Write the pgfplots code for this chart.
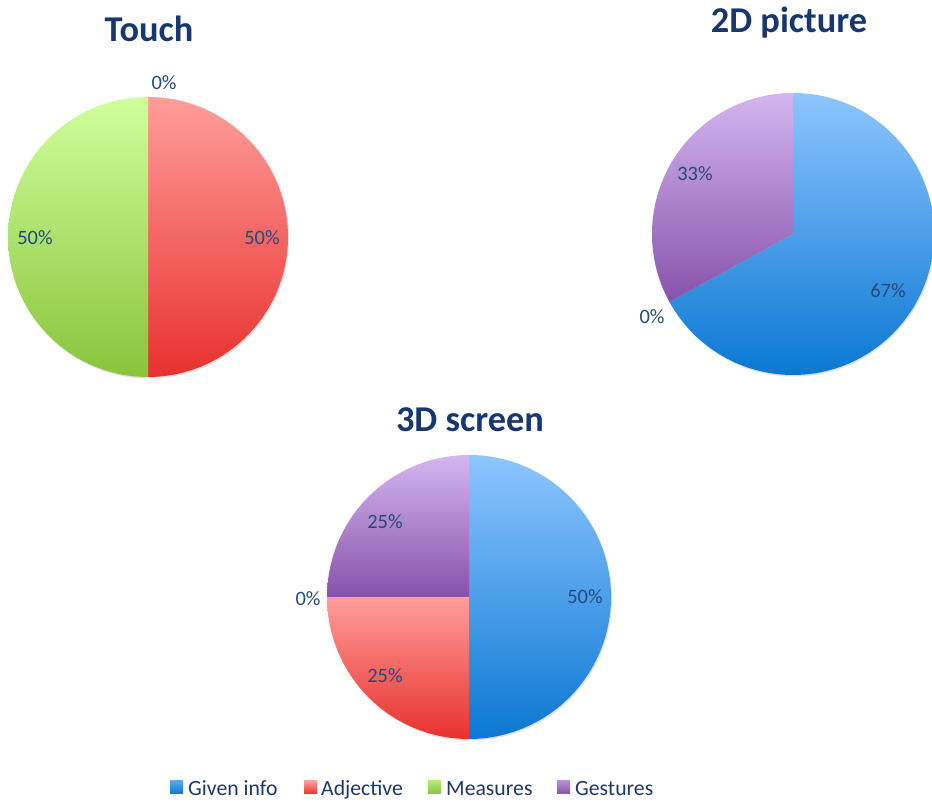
\documentclass[border=0pt]{standalone}
\usepackage{pgfplots}
\pgfplotsset{compat=1.18}
\usepackage{fontspec}
\setmainfont{Carlito}
\definecolor{titlec}{HTML}{17376E}
\definecolor{labc}{HTML}{25497C}
\definecolor{legc}{HTML}{1F3864}
\definecolor{blueT}{HTML}{8EC5FF}
\definecolor{blueB}{HTML}{0A78D2}
\definecolor{redT}{HTML}{FF9E9A}
\definecolor{redB}{HTML}{E8312E}
\definecolor{greenT}{HTML}{CFFF9C}
\definecolor{greenB}{HTML}{8AC43C}
\definecolor{purT}{HTML}{D4B6F0}
\definecolor{purB}{HTML}{8752AA}

% #1 cx, #2 cy, #3 radius (bp), #4 list value/topcolor/bottomcolor (clockwise from 12 o'clock)
\newcommand{\pie}[4]{%
  \fill[black!35, opacity=0.35] (axis cs:#1+1,#2-1.5) circle[radius=#3bp];
  \xdef\cum{0}%
  \foreach \v/\ct/\cb in {#4} {%
    \pgfmathsetmacro\aS{90-3.6*\cum}%
    \pgfmathsetmacro\aE{90-3.6*(\cum+\v)}%
    \ifdim \v pt>0pt
      \path[top color=\ct, bottom color=\cb, middle color=\ct!50!\cb] (axis cs:#1,#2) -- ++(\aS:#3bp) arc[start angle=\aS, end angle=\aE, radius=#3bp] -- cycle;
    \fi
    \pgfmathsetmacro\newcum{\cum+\v}%
    \global\let\cum\newcum
  }%
}

\begin{document}
\begin{tikzpicture}
\begin{axis}[scale only axis, width=932bp, height=804bp,
  xmin=0, xmax=932, ymin=0, ymax=804, axis lines=none, clip=false]
\pgfplotsextra{%
  % Touch: Given info, Adjective, Measures, Gestures
  \pie{148}{567}{140}{0/blueT/blueB, 50/redT/redB, 50/greenT/greenB, 0/purT/purB}
  % 2D picture
  \pie{793}{570}{141}{67/blueT/blueB, 0/redT/redB, 0/greenT/greenB, 33/purT/purB}
  % 3D screen
  \pie{469}{207}{142}{50/blueT/blueB, 25/redT/redB, 0/greenT/greenB, 25/purT/purB}
  % legend squares
  \path[top color=blueT!60!blueB, bottom color=blueB] (axis cs:170,10) rectangle (axis cs:183,23);
  \path[top color=redT, bottom color=redB] (axis cs:304,10) rectangle (axis cs:317,23);
  \path[top color=greenT!60!greenB, bottom color=greenB] (axis cs:428,10) rectangle (axis cs:441,23);
  \path[top color=purT!60!purB, bottom color=purB] (axis cs:557,10) rectangle (axis cs:570,23);
}
% titles
\node[anchor=base, text=titlec, font=\fontsize{36.5}{40}\selectfont\bfseries] at (axis cs:149,762) {Touch};
\node[anchor=base, text=titlec, font=\fontsize{36.5}{40}\selectfont\bfseries] at (axis cs:789,771) {2D picture};
\node[anchor=base, text=titlec, font=\fontsize{36.5}{40}\selectfont\bfseries] at (axis cs:470,372) {3D screen};
% data labels
\begin{scope}[every node/.style={text=labc, font=\fontsize{20.5}{24}\selectfont, inner sep=0pt}]
\node at (axis cs:164,721) {0\%};
\node at (axis cs:262,566) {50\%};
\node at (axis cs:35,566) {50\%};
\node at (axis cs:695,630) {33\%};
\node at (axis cs:888,513) {67\%};
\node at (axis cs:652,487) {0\%};
\node at (axis cs:385,282) {25\%};
\node at (axis cs:585,207) {50\%};
\node at (axis cs:308,205) {0\%};
\node at (axis cs:385,128) {25\%};
\end{scope}
% legend text
\begin{scope}[every node/.style={text=legc, font=\fontsize{21.8}{24}\selectfont, inner sep=0pt, anchor=base west}]
\node at (axis cs:188,9) {Given info};
\node at (axis cs:321,9) {Adjective};
\node at (axis cs:446,9) {Measures};
\node at (axis cs:575,9) {Gestures};
\end{scope}
\end{axis}
\pgfresetboundingbox
\useasboundingbox (0,0) rectangle (932bp,804bp);
\end{tikzpicture}
\end{document}
